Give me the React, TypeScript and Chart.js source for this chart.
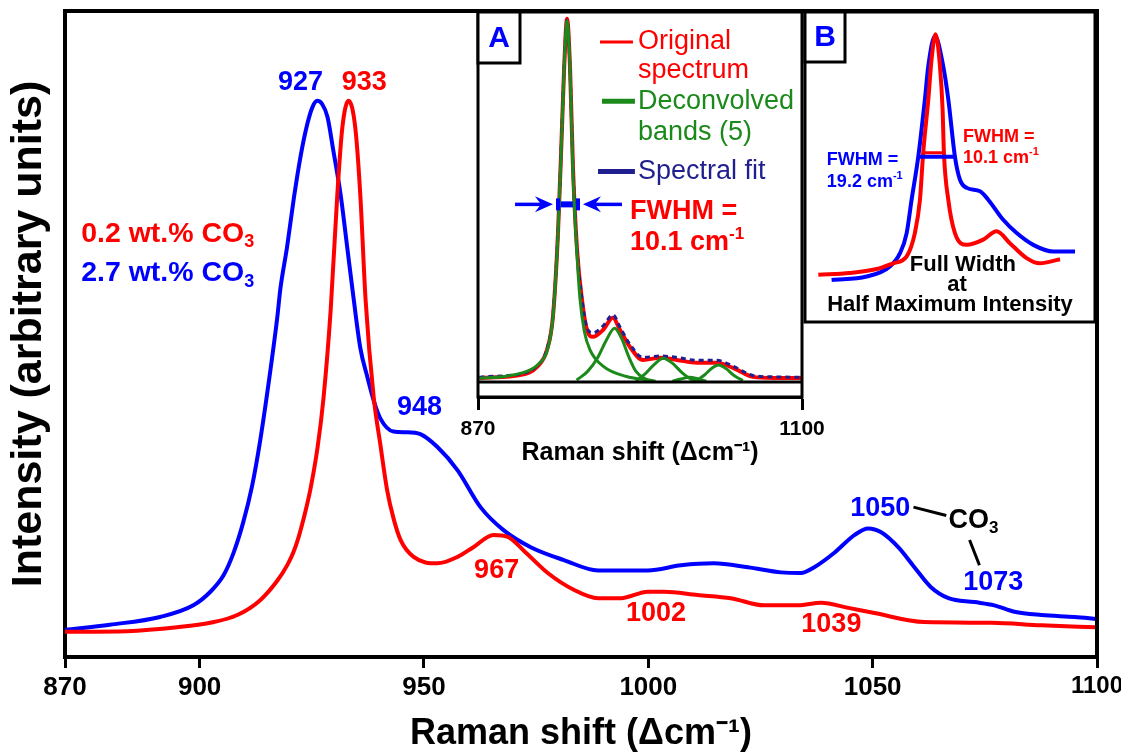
import React, { useEffect, useRef } from "react";
import { Chart, registerables } from "chart.js";

Chart.register(...registerables);

const FONT = "'Liberation Sans', Arial, Helvetica, sans-serif";
const RED = "#ff0000";
const BLUE = "#0000ff";
const GREEN = "#1b8a1b";
const NAVY = "#1f1f8f";
const BLACK = "#000000";

// ---------------- Main chart data ----------------
const mainTickValues = [870, 900, 950, 1000, 1050, 1100];
const mainTickLabels = ["870", "900", "950", "1000", "1050", "1100"];

// 2.7 wt.% CO3 (blue)
const shiftHighCO3 = [870, 880, 891.2, 898.6, 902.4, 905.3, 907.5, 909.7, 911.7, 913.5, 915.8, 917.3, 918.0, 919.5, 921.0, 922.5, 924.0, 925.2, 926.2, 927.3, 928.5, 929.8, 931.4, 932.9, 934.3, 935.8, 937.4, 938.8, 940.3, 943.2, 946.0, 949.2, 953.0, 957.5, 962.6, 967.8, 973.8, 981.2, 988.8, 999.9, 1007.3, 1014.6, 1022.2, 1029.6, 1034.0, 1037.0, 1041.4, 1046.0, 1049.0, 1051.9, 1055.7, 1059.3, 1063.0, 1066.9, 1072.7, 1077.1, 1081.6, 1087.6, 1095.0, 1100];
const intensityHighCO3 = [4.2, 5.0, 6.2, 8.0, 10.1, 12.6, 16.0, 20.8, 26.5, 33.5, 44.5, 52.5, 57.0, 63.5, 71.0, 77.5, 82.5, 85.2, 86.1, 85.6, 83.6, 78.4, 71.7, 63.4, 55.6, 47.9, 43.3, 39.7, 36.9, 34.9, 34.8, 34.5, 32.5, 28.9, 23.2, 19.6, 17.0, 15.0, 13.4, 13.4, 14.2, 14.5, 13.9, 13.1, 13.0, 13.9, 16.1, 18.9, 19.9, 19.3, 17.0, 13.9, 10.8, 9.1, 8.5, 8.0, 7.0, 6.5, 6.2, 5.9];

// 0.2 wt.% CO3 (red)
const shiftLowCO3 = [870, 883.8, 895, 902.4, 908.4, 913.5, 917.3, 919.6, 920.9, 922.0, 923.1, 924.7, 926.3, 927.6, 929.2, 930.7, 931.8, 933.2, 934.7, 935.8, 937.0, 938.8, 940.3, 941.8, 943.2, 944.8, 947.7, 953.0, 957.5, 961.0, 965.5, 968.7, 972.2, 977.6, 983.4, 988.8, 993.9, 999.9, 1003.5, 1011.0, 1018.4, 1025.8, 1033.4, 1038.5, 1044.6, 1050.4, 1061.5, 1076.5, 1087.6, 1100];
const intensityLowCO3 = [3.9, 4.0, 4.6, 5.3, 6.5, 8.8, 11.8, 14.3, 16.2, 18.4, 21.2, 26.0, 32.5, 40.0, 53.6, 71.7, 81.9, 86.1, 81.9, 71.7, 55.2, 40.2, 32.8, 25.8, 21.5, 18.1, 15.5, 14.5, 15.5, 17.0, 18.9, 18.6, 16.5, 13.0, 10.4, 9.1, 9.1, 10.1, 10.1, 9.6, 9.1, 8.0, 8.0, 8.4, 7.6, 6.8, 5.4, 5.3, 4.9, 4.6];

// CO3 leader lines
const leader1050X = [1059.1, 1066.4];
const leader1050Y = [23.2, 21.9];
const leader1073X = [1071.6, 1073.8];
const leader1073Y = [18.1, 14.2];

// ---------------- Inset A data ----------------
const insetTickValues = [870, 1100];
const insetTickLabels = ["870", "1100"];
const insetShift = [871, 872.8, 899.8, 911.9, 919, 923.2, 926.8, 929.5, 931.2, 933.2, 935.3, 937.4, 940.3, 943.8, 947.4, 951.6, 958.7, 965.8, 970.8, 977.9, 987.1, 999.2, 1011.2, 1025.4, 1039.6, 1051, 1065.2, 1080, 1100];
const originalIntensity = [1.0, 1.1, 1.9, 4.2, 8.9, 18.1, 41.4, 69.2, 87.5, 100.6, 87.5, 59.7, 36.7, 22.8, 14.4, 12.5, 14.4, 17.8, 14.4, 9.7, 6.1, 6.7, 6.1, 5.3, 5.3, 3.9, 1.4, 1.1, 1.1];
const fitIntensity = [1.3, 1.4, 2.2, 4.5, 9.2, 18.5, 41.8, 69.5, 87.8, 100.3, 87.0, 59.5, 36.5, 23.0, 15.0, 13.6, 15.5, 18.6, 15.2, 10.4, 6.8, 7.2, 6.8, 6.0, 6.0, 4.4, 1.8, 1.4, 1.3];

const band1Shift = [871, 890, 905, 913, 919, 923.2, 926.8, 929.5, 931.2, 933.2, 935.3, 937.4, 940.3, 942.4, 945.5, 949.5, 959, 975.5, 990];
const band1Intensity = [1.0, 1.6, 3.0, 5.0, 8.6, 17.8, 41.0, 69.0, 87.5, 100.0, 87.0, 58.0, 35.0, 23.0, 14.0, 8.9, 4.3, 1.5, 0.5];
const band2Shift = [940, 948, 955, 961, 967, 972, 977, 982, 988, 996];
const band2Intensity = [0.5, 3.0, 6.8, 11.5, 14.9, 12.0, 7.0, 3.0, 1.0, 0.2];
const band3Shift = [982, 988, 995, 1001.5, 1008, 1015, 1021, 1027];
const band3Intensity = [0.3, 2.0, 4.8, 6.6, 5.2, 2.5, 0.8, 0.2];
const band4Shift = [1025, 1031, 1036, 1040.6, 1046, 1052, 1058];
const band4Intensity = [0.3, 2.0, 3.8, 4.7, 3.7, 1.7, 0.4];
const band5Shift = [1008, 1014, 1020, 1026, 1032];
const band5Intensity = [0.2, 0.8, 1.3, 0.9, 0.2];

const fwhmBarAX = [926.8, 941.0];
const fwhmBarAY = [49.2, 49.2];

// ---------------- Inset B data (offset from band maximum, cm-1) ----------------
const offsetHighB = [-54.9, -36.5, -24.2, -18.9, -15.4, -12.8, -9.3, -5.8, -4.0, -0.5, 3.8, 6.5, 10.0, 12.6, 16.2, 23.2, 27.5, 35.4, 42.5, 51.2, 61.7, 73.2];
const intensityHighB = [14.6, 15.8, 19.3, 23.9, 30.9, 42.5, 57.4, 77.4, 89.0, 99.4, 89.0, 77.4, 57.4, 49.5, 46.6, 45.4, 42.5, 35.5, 30.9, 26.8, 24.5, 24.5];
const offsetLowB = [-61.9, -45.3, -31.2, -22.5, -15.4, -11.1, -8.4, -6.7, -4.0, -2.3, -0.2, 2.1, 3.5, 4.2, 6.5, 10.0, 16.2, 24.9, 31.9, 38.9, 47.7, 54.7, 65.3];
const intensityLowB = [16.4, 17.0, 18.4, 20.4, 22.8, 30.9, 42.5, 58.8, 77.4, 91.3, 100, 89.0, 73.9, 58.8, 42.5, 30.9, 26.8, 28.6, 31.5, 27.4, 22.2, 20.4, 21.8];
const fwhmHighBX = [-9.3, 10.0];
const fwhmHighBY = [57.4, 57.4];
const fwhmLowBX = [-6.7, 4.2];
const fwhmLowBY = [58.8, 58.8];

// ---------------- text annotations ----------------
type Run = { t: string; s?: "sub" | "sup" };
type Label = { runs: Run[]; x: number; y: number; color: string; size: number; weight?: string; align?: "left" | "center" };

const mainLabels: Label[] = [
  { runs: [{ t: "927" }], x: 922.5, y: 88.9, color: BLUE, size: 27 },
  { runs: [{ t: "933" }], x: 936.7, y: 88.9, color: RED, size: 27 },
  { runs: [{ t: "948" }], x: 949.0, y: 38.6, color: BLUE, size: 27 },
  { runs: [{ t: "967" }], x: 966.2, y: 13.4, color: RED, size: 27 },
  { runs: [{ t: "1002" }], x: 1001.7, y: 6.8, color: RED, size: 27 },
  { runs: [{ t: "1039" }], x: 1040.8, y: 4.95, color: RED, size: 27 },
  { runs: [{ t: "1050" }], x: 1051.7, y: 23.0, color: BLUE, size: 27 },
  { runs: [{ t: "1073" }], x: 1076.9, y: 11.6, color: BLUE, size: 27 },
  { runs: [{ t: "CO" }, { t: "3", s: "sub" }], x: 1066.9, y: 21.2, color: BLACK, size: 27, align: "left" },
  { runs: [{ t: "0.2 wt.% CO" }, { t: "3", s: "sub" }], x: 873.6, y: 65.5, color: RED, size: 28.5, align: "left" },
  { runs: [{ t: "2.7 wt.% CO" }, { t: "3", s: "sub" }], x: 873.6, y: 59.4, color: BLUE, size: 28.5, align: "left" },
];

const insetALabels: Label[] = [
  { runs: [{ t: "Original" }], x: 983.6, y: 94.2, color: RED, size: 27, weight: "normal", align: "left" },
  { runs: [{ t: "spectrum" }], x: 983.6, y: 86.4, color: RED, size: 27, weight: "normal", align: "left" },
  { runs: [{ t: "Deconvolved" }], x: 983.6, y: 77.8, color: GREEN, size: 27, weight: "normal", align: "left" },
  { runs: [{ t: "bands (5)" }], x: 983.6, y: 69.2, color: GREEN, size: 27, weight: "normal", align: "left" },
  { runs: [{ t: "Spectral fit" }], x: 983.6, y: 58.3, color: NAVY, size: 27, weight: "normal", align: "left" },
  { runs: [{ t: "FWHM =" }], x: 977.9, y: 47.2, color: RED, size: 27, align: "left" },
  { runs: [{ t: "10.1 cm" }, { t: "-1", s: "sup" }], x: 977.9, y: 38.6, color: RED, size: 27, align: "left" },
];
const legendAItems = [
  { x0: 956.6, x1: 980.0, y: 94.2, color: RED, width: 3 },
  { x0: 958.0, x1: 981.4, y: 77.8, color: GREEN, width: 5 },
  { x0: 955.2, x1: 981.4, y: 58.3, color: NAVY, width: 5 },
];
const arrowsA = [
  { from: 896.3, to: 923.2, y: 49.2 },
  { from: 972.2, to: 944.5, y: 49.2 },
];

const insetBLabels: Label[] = [
  { runs: [{ t: "FWHM =" }], x: -57.4, y: 56.4, color: BLUE, size: 18, align: "left" },
  { runs: [{ t: "19.2 cm" }, { t: "-1", s: "sup" }], x: -57.4, y: 48.8, color: BLUE, size: 18, align: "left" },
  { runs: [{ t: "FWHM =" }], x: 14.2, y: 64.1, color: RED, size: 18, align: "left" },
  { runs: [{ t: "10.1 cm" }, { t: "-1", s: "sup" }], x: 14.2, y: 57.1, color: RED, size: 18, align: "left" },
  { runs: [{ t: "Full Width" }], x: 14.2, y: 19.9, color: BLACK, size: 22 },
  { runs: [{ t: "at" }], x: 11.1, y: 12.9, color: BLACK, size: 22 },
  { runs: [{ t: "Half Maximum Intensity" }], x: 7.4, y: 5.9, color: BLACK, size: 22 },
];

// ---------------- helpers ----------------
const pts = (xs: number[], ys: number[]) => xs.map((x, i) => ({ x, y: ys[i] }));

const lineDs = (data: any[], color: string, width: number, extra: any = {}) => ({
  data,
  borderColor: color,
  backgroundColor: color,
  borderWidth: width,
  pointRadius: 0,
  fill: false,
  cubicInterpolationMode: "monotone",
  ...extra,
});

function drawRich(ctx: CanvasRenderingContext2D, lab: Label, px: number, py: number) {
  const weight = lab.weight || "bold";
  const main = `${weight} ${lab.size}px ${FONT}`;
  const small = `${weight} ${Math.round(lab.size * 0.62)}px ${FONT}`;
  ctx.save();
  ctx.fillStyle = lab.color;
  ctx.textBaseline = "middle";
  ctx.textAlign = "left";
  let w = 0;
  for (const r of lab.runs) {
    ctx.font = r.s ? small : main;
    w += ctx.measureText(r.t).width;
  }
  let cx = lab.align === "left" ? px : px - w / 2;
  for (const r of lab.runs) {
    ctx.font = r.s ? small : main;
    const dy = r.s === "sub" ? lab.size * 0.3 : r.s === "sup" ? -lab.size * 0.3 : 0;
    ctx.fillText(r.t, cx, py + dy);
    cx += ctx.measureText(r.t).width;
  }
  ctx.restore();
}

function drawTag(ctx: CanvasRenderingContext2D, left: number, top: number, w: number, h: number, text: string) {
  ctx.save();
  ctx.fillStyle = "#ffffff";
  ctx.fillRect(left, top, w, h);
  ctx.strokeStyle = BLACK;
  ctx.lineWidth = 3;
  ctx.strokeRect(left, top, w, h);
  ctx.fillStyle = BLUE;
  ctx.font = `bold 30px ${FONT}`;
  ctx.textAlign = "center";
  ctx.textBaseline = "middle";
  ctx.fillText(text, left + w / 2, top + h / 2 + 1);
  ctx.restore();
}

function drawArrow(ctx: CanvasRenderingContext2D, x0: number, x1: number, y: number, color: string) {
  const dir = Math.sign(x1 - x0);
  ctx.save();
  ctx.strokeStyle = color;
  ctx.fillStyle = color;
  ctx.lineWidth = 3.5;
  ctx.beginPath();
  ctx.moveTo(x0, y);
  ctx.lineTo(x1 - dir * 12, y);
  ctx.stroke();
  ctx.beginPath();
  ctx.moveTo(x1, y);
  ctx.lineTo(x1 - dir * 18, y - 8);
  ctx.lineTo(x1 - dir * 12, y);
  ctx.lineTo(x1 - dir * 18, y + 8);
  ctx.closePath();
  ctx.fill();
  ctx.restore();
}

const mainDecor = {
  id: "mainDecor",
  afterDraw(chart: any) {
    const { ctx, chartArea: a, scales } = chart;
    ctx.save();
    ctx.strokeStyle = BLACK;
    ctx.lineWidth = 4;
    ctx.beginPath();
    ctx.moveTo(a.left - 2, a.top);
    ctx.lineTo(a.right, a.top);
    ctx.lineTo(a.right, a.bottom + 2);
    ctx.stroke();
    ctx.restore();
    for (const lab of mainLabels) drawRich(ctx, lab, scales.x.getPixelForValue(lab.x), scales.y.getPixelForValue(lab.y));
  },
};

const insetADecor = {
  id: "insetADecor",
  afterDraw(chart: any) {
    const { ctx, chartArea: a, scales } = chart;
    const X = (v: number) => scales.x.getPixelForValue(v);
    const Y = (v: number) => scales.y.getPixelForValue(v);
    ctx.save();
    ctx.strokeStyle = BLACK;
    ctx.lineWidth = 3;
    ctx.strokeRect(a.left, a.top, a.right - a.left, a.bottom - a.top);
    ctx.beginPath();
    ctx.moveTo(a.left, Y(0));
    ctx.lineTo(a.right, Y(0));
    ctx.stroke();
    for (const it of legendAItems) {
      ctx.strokeStyle = it.color;
      ctx.lineWidth = it.width;
      ctx.beginPath();
      ctx.moveTo(X(it.x0), Y(it.y));
      ctx.lineTo(X(it.x1), Y(it.y));
      ctx.stroke();
    }
    // FWHM bar end caps
    ctx.strokeStyle = BLUE;
    ctx.lineWidth = 4;
    for (const xv of fwhmBarAX) {
      ctx.beginPath();
      ctx.moveTo(X(xv), Y(fwhmBarAY[0]) - 6);
      ctx.lineTo(X(xv), Y(fwhmBarAY[0]) + 6);
      ctx.stroke();
    }
    ctx.restore();
    for (const ar of arrowsA) drawArrow(ctx, X(ar.from), X(ar.to), Y(ar.y), BLUE);
    for (const lab of insetALabels) drawRich(ctx, lab, X(lab.x), Y(lab.y));
    drawTag(ctx, a.left, a.top, 42, 51, "A");
  },
};

const insetBDecor = {
  id: "insetBDecor",
  afterDraw(chart: any) {
    const { ctx, chartArea: a, scales } = chart;
    const X = (v: number) => scales.x.getPixelForValue(v);
    const Y = (v: number) => scales.y.getPixelForValue(v);
    for (const lab of insetBLabels) drawRich(ctx, lab, X(lab.x), Y(lab.y));
    ctx.save();
    ctx.strokeStyle = BLACK;
    ctx.lineWidth = 3;
    ctx.strokeRect(a.left, a.top, a.right - a.left, a.bottom - a.top);
    ctx.restore();
    drawTag(ctx, a.left, a.top, 40, 50, "B");
  },
};

export default function App() {
  const mainRef = useRef<HTMLCanvasElement>(null);
  const aRef = useRef<HTMLCanvasElement>(null);
  const bRef = useRef<HTMLCanvasElement>(null);

  useEffect(() => {
    Chart.defaults.font.family = FONT;
    const noPlugins = { legend: { display: false }, tooltip: { enabled: false } };

    const main = new Chart(mainRef.current as HTMLCanvasElement, {
      type: "line",
      data: {
        datasets: [
          lineDs(pts(shiftLowCO3, intensityLowCO3), RED, 4),
          lineDs(pts(shiftHighCO3, intensityHighCO3), BLUE, 4),
          lineDs(pts(leader1050X, leader1050Y), BLACK, 3, { cubicInterpolationMode: "default" }),
          lineDs(pts(leader1073X, leader1073Y), BLACK, 3, { cubicInterpolationMode: "default" }),
        ],
      },
      options: {
        animation: false,
        responsive: false,
        layout: { padding: { top: 11, right: 24, left: 0, bottom: 0 } },
        plugins: noPlugins,
        scales: {
          x: {
            type: "linear",
            min: 870,
            max: 1100,
            afterBuildTicks: (s: any) => {
              s.ticks = mainTickValues.map((v) => ({ value: v }));
            },
            afterFit: (s: any) => {
              s.height = 99;
              s.paddingLeft = 0;
              s.paddingRight = 0;
            },
            ticks: {
              font: (c: any) => ({
                family: FONT,
                size: c.tick && c.tick.value === 1100 ? 24 : 26,
                weight: "bold",
              }),
              color: BLACK,
              padding: 4,
              maxRotation: 0,
              autoSkip: false,
              callback: (v: any) => mainTickLabels[mainTickValues.indexOf(Number(v))],
            },
            grid: { drawOnChartArea: false, drawTicks: true, tickLength: 11, tickWidth: 3, tickColor: BLACK, color: BLACK },
            border: { display: true, color: BLACK, width: 4 },
            title: {
              display: true,
              text: "Raman shift (Δcm⁻¹)",
              color: BLACK,
              font: { family: FONT, size: 36, weight: "bold" },
              padding: { top: 0, bottom: 0 },
            },
          },
          y: {
            type: "linear",
            min: 0,
            max: 100,
            afterFit: (s: any) => {
              s.width = 65;
            },
            ticks: { display: false },
            grid: { display: false, drawTicks: false },
            border: { display: true, color: BLACK, width: 4 },
            title: {
              display: true,
              text: "Intensity (arbitrary units)",
              color: BLACK,
              font: { family: FONT, size: 43, weight: "bold" },
              padding: { top: 3, bottom: 0 },
            },
          },
        },
      } as any,
      plugins: [mainDecor],
    } as any);

    const insetA = new Chart(aRef.current as HTMLCanvasElement, {
      type: "line",
      data: {
        datasets: [
          lineDs(pts(band1Shift, band1Intensity), GREEN, 3),
          lineDs(pts(band2Shift, band2Intensity), GREEN, 3),
          lineDs(pts(band3Shift, band3Intensity), GREEN, 3),
          lineDs(pts(band4Shift, band4Intensity), GREEN, 3),
          lineDs(pts(band5Shift, band5Intensity), GREEN, 3),
          lineDs(pts(fwhmBarAX, fwhmBarAY), BLUE, 6, { cubicInterpolationMode: "default" }),
          lineDs(pts(insetShift, fitIntensity), NAVY, 3, { borderDash: [5, 4] }),
          lineDs(pts(insetShift, originalIntensity), RED, 4),
        ],
      },
      options: {
        animation: false,
        responsive: false,
        layout: { padding: { top: 12, right: 48, left: 38, bottom: 0 } },
        plugins: noPlugins,
        scales: {
          x: {
            type: "linear",
            min: 870,
            max: 1100,
            afterBuildTicks: (s: any) => {
              s.ticks = insetTickValues.map((v) => ({ value: v }));
            },
            afterFit: (s: any) => {
              s.height = 78;
              s.paddingLeft = 0;
              s.paddingRight = 0;
            },
            ticks: {
              font: { family: FONT, size: 21, weight: "bold" },
              color: BLACK,
              padding: 7,
              maxRotation: 0,
              autoSkip: false,
              callback: (v: any) => insetTickLabels[insetTickValues.indexOf(Number(v))],
            },
            grid: { drawOnChartArea: false, drawTicks: true, tickLength: 13, tickWidth: 3, tickColor: BLACK, color: BLACK },
            border: { display: true, color: BLACK, width: 3 },
            title: {
              display: true,
              text: "Raman shift (Δcm⁻¹)",
              color: BLACK,
              font: { family: FONT, size: 25, weight: "bold" },
              padding: { top: 0, bottom: 7 },
            },
          },
          y: { type: "linear", min: -4.17, max: 102.5, display: false },
        },
      } as any,
      plugins: [insetADecor],
    } as any);

    const insetB = new Chart(bRef.current as HTMLCanvasElement, {
      type: "line",
      data: {
        datasets: [
          lineDs(pts(fwhmLowBX, fwhmLowBY), RED, 3, { cubicInterpolationMode: "default" }),
          lineDs(pts(fwhmHighBX, fwhmHighBY), BLUE, 4, { cubicInterpolationMode: "default" }),
          lineDs(pts(offsetLowB, intensityLowB), RED, 4),
          lineDs(pts(offsetHighB, intensityHighB), BLUE, 4),
        ],
      },
      options: {
        animation: false,
        responsive: false,
        layout: { padding: { top: 12, right: 26, left: 5, bottom: 8 } },
        plugins: noPlugins,
        scales: {
          x: { type: "linear", min: -68.9, max: 83.7, display: false },
          y: { type: "linear", min: 0, max: 107.7, display: false },
        },
      } as any,
      plugins: [insetBDecor],
    } as any);

    return () => {
      main.destroy();
      insetA.destroy();
      insetB.destroy();
    };
  }, []);

  return (
    <div style={{ position: "absolute", left: 0, top: 0, width: 1121, height: 756, background: "#ffffff" }}>
      <canvas ref={mainRef} width={1121} height={756} style={{ position: "absolute", left: 0, top: 0, display: "block" }} />
      <canvas ref={aRef} width={410} height={475} style={{ position: "absolute", left: 440, top: 0, display: "block" }} />
      <canvas ref={bRef} width={321} height={330} style={{ position: "absolute", left: 800, top: 0, display: "block" }} />
    </div>
  );
}
